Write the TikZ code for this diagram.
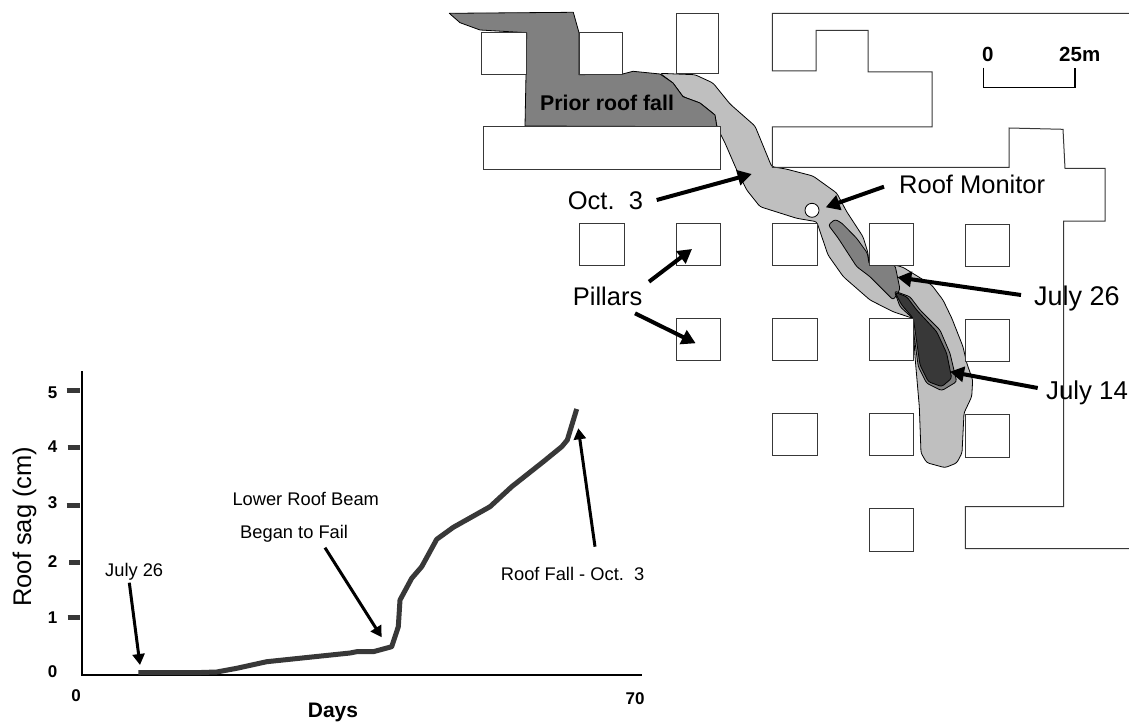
\documentclass[tikz,border=0pt]{standalone}
\usepackage{fontspec}
\setmainfont{Liberation Sans}
\usetikzlibrary{arrows.meta}
\definecolor{fallA}{HTML}{BFBFBF}
\definecolor{fallB}{HTML}{808080}
\definecolor{fallC}{HTML}{383838}
\definecolor{ink}{HTML}{383838}
\tikzset{
  zone/.style={draw=black,line width=0.8pt,line join=round},
  softzone/.style={zone,rounded corners=2.5pt},
  pillar/.style={draw=ink,fill=white,line width=1pt},
  wall/.style={draw=ink,line width=1pt,line join=miter},
  bigarrow/.style={-{Triangle[length=14pt,width=15pt]},line width=4pt,black},
  midarrow/.style={-{Triangle[length=11pt,width=12pt]},line width=3pt,black},
  big/.style={anchor=base west,inner sep=0pt,font=\fontsize{25.5}{30}\selectfont},
  bigger/.style={anchor=base west,inner sep=0pt,font=\fontsize{27}{30}\selectfont},
  edgelabel/.style={anchor=base west,inner sep=0pt,font=\fontsize{25.8}{30}\selectfont},
  small/.style={anchor=base west,inner sep=0pt,font=\fontsize{18.3}{22}\selectfont},
  ticklabel/.style={anchor=base,inner sep=0pt,font=\fontsize{17}{20}\selectfont\bfseries},
  ytick/.style={line width=5pt,draw=ink},
  axis/.style={line width=2pt,black},
}
\begin{document}
\begin{tikzpicture}[x=1pt,y=-1pt]
\useasboundingbox (0,0) rectangle (1129,722);
% Oct. 3 fall zone
\draw[softzone,fill=fallA] (660,73.3) -- (676,74) -- (695,74.7) -- (713,83) -- (730,104) -- (755,126) -- (771.7,166.7)
 -- (786,169) -- (813,176) -- (836.7,193) -- (846.7,211.7) -- (863,236.7) -- (868,253) -- (869,265) -- (895,265)
 -- (903,267.3) -- (931.7,285) -- (943,300) -- (951.7,318) -- (963,346.7) -- (966.7,363) -- (972.7,380) -- (971.7,396.7)
 -- (964,413) -- (962,453) -- (956.7,463) -- (945,467.7) -- (926.7,462.7) -- (921,453) -- (919.3,406.7) -- (915,356.7)
 -- (912.7,318.3) -- (903,315) -- (893,311.7) -- (870,300) -- (843.3,276.7) -- (828,255) -- (816.7,221.7)
 -- (796.7,218.3) -- (760,206.7) -- (746.7,190) -- (736.7,170) -- (725,143) -- (720,133) -- (716.7,126) -- (715,115)
 -- (700,103) -- (683,96.7) -- (673,83) -- cycle;
% Prior roof fall
\draw[zone,fill=fallB] (449.3,13.3) -- (573.3,12.3) -- (579,32.7) -- (579,74.7) -- (622.7,74) -- (633,71.3) -- (660,74)
 -- (673,83) -- (683,96.7) -- (700,103) -- (715,115) -- (716.7,126) -- (717.3,126.7) -- (525,126) -- (526,74.7)
 -- (526.7,32.7) -- (480,30) -- (460,22.7) -- cycle;
% July 26 zone
\draw[softzone,fill=fallB] (835,219.3) -- (828.3,225) -- (838.3,238.3) -- (856.7,266.7) -- (870,276.7) -- (893.3,300)
 -- (900,289.3) -- (895,265) -- (869.3,265) -- (867.3,253) -- (856.7,238.3) -- (841.7,223) -- cycle;
% July 14 zone
\draw[softzone,fill=fallB] (894.3,291) -- (910,296.7) -- (920,310) -- (940,330) -- (950,353.3) -- (956.7,381.7) -- (941.7,390.7)
 -- (926.7,383.3) -- (918.3,366.7) -- (913.3,330) -- (912.7,318.3) -- (900,306.7) -- cycle;
\draw[softzone,fill=fallC] (895,292.3) -- (906.7,296.7) -- (916.7,310) -- (936.7,331.7) -- (946.7,353.3) -- (951.7,378.3)
 -- (941.7,386.7) -- (928.3,381.7) -- (920,365) -- (915,330) -- (913.3,318.3) -- (901.7,305) -- cycle;
% Pillars
\foreach \a/\b/\c/\d in {481.7/32.7/526.7/74.7,579/32.7/622.7/74.7,676/13.3/718.7/73.7,483/126.7/720/170,
  579/223/624/265,676/223/720/265,772.3/223/817/265,869.3/223/913.3/265,965/224.3/1009.3/266.3,
  676/318/720/360,772.3/318.3/817/360.3,869.3/318.3/913.3/360.3,965/319.7/1009.3/361.7,
  772.3/413.3/817/455.3,869.3/413.3/913.3/455.3,965/414.7/1009.3/457.7,869.3/508/913.3/551}
  \draw[pillar] (\a,\b) rectangle (\c,\d);
% Mine walls
\draw[wall] (1129,13.3) -- (772.3,13.3) -- (772.3,71) -- (816,71) -- (816,30.5) -- (868,30.5) -- (868,72) -- (932,72)
 -- (932,127) -- (772.3,127) -- (772.3,167.3) -- (1009,167.3) -- (1009,128) -- (1063,129.3) -- (1065,168.5) -- (1105,168.5)
 -- (1105,221) -- (1063.7,221) -- (1063.7,506.7) -- (965.3,506.7) -- (965.3,548.7) -- (1129,548.7);
% Roof monitor
\node[draw=black,fill=white,circle,line width=0.8pt,minimum size=14pt,inner sep=0pt] (mon) at (812,210.3) {};
% Scale bar
\coordinate (sa) at (983.7,67.7);
\coordinate (sb) at (983.7,87.7);
\coordinate (sc) at (1075,87.7);
\coordinate (sd) at (1075,67.7);
\draw[line width=1.5pt,black] (sa) -- (sb) -- (sc) -- (sd);
\node[anchor=base west,inner sep=0pt,font=\fontsize{20.5}{24}\selectfont\bfseries] (s0) at (982,61.7) {0};
\node[anchor=base west,inner sep=0pt,font=\fontsize{20.5}{24}\selectfont\bfseries] (s25) at (1059,61.7) {25m};
% Map labels
\node[anchor=base west,inner sep=0pt,font=\fontsize{21.3}{25}\selectfont\bfseries] (prior) at (540,110.7) {Prior roof fall};
\node[big] (oct) at (567.7,210) {Oct.\ \ 3};
\node[big] (rm) at (899,193.3) {Roof Monitor};
\node[big] (pil) at (572.7,305) {Pillars};
\node[bigger] (j26) at (1034,305) {July 26};
\node[edgelabel] (j14) at (1046,399.3) {July 14};
% Map arrows
\coordinate (oa) at (656.7,200); \coordinate (ob) at (751.7,174);
\coordinate (ra) at (884,186.7); \coordinate (rb) at (825.7,207.3);
\coordinate (pa) at (649,281.7); \coordinate (pb) at (692,249);
\coordinate (qa) at (635,313.3); \coordinate (qb) at (695.7,343.3);
\coordinate (ja) at (1021,295); \coordinate (jb) at (897.3,277.3);
\coordinate (ka) at (1037.7,388); \coordinate (kb) at (950,371.7);
\draw[bigarrow] (oa) -- (ob);
\draw[bigarrow] (ra) -- (rb);
\draw[bigarrow] (pa) -- (pb);
\draw[bigarrow] (qa) -- (qb);
\draw[bigarrow] (ja) -- (jb);
\draw[bigarrow] (ka) -- (kb);
% Graph axes
\coordinate (ytop) at (82,371);
\coordinate (orig) at (82,675.3);
\coordinate (xend) at (641.7,675.3);
\draw[axis] (ytop) -- (orig) -- (xend);
\foreach \xs/\ys in {66.7/390.7,67.5/447.3,66.7/505.3,69.3/562,67.5/617.3}
  \draw[ytick] (\xs,\ys) -- (80,\ys);
\foreach \l/\ys in {5/398,4/452,3/508.7,2/567.7,1/623,0/677.7}
  \node[ticklabel] (t\l) at (52.7,\ys) {\l};
\node[ticklabel] (x0) at (76,701) {0};
\node[ticklabel] (x70) at (635,704) {70};
\node[anchor=base,inner sep=0pt,font=\fontsize{21}{25}\selectfont\bfseries] (days) at (333,717) {Days};
\node[anchor=base,inner sep=0pt,rotate=90,font=\fontsize{25.5}{30}\selectfont] (sag) at (31,526.7) {Roof sag (cm)};
% Curve
\draw[line width=5pt,draw=ink,line join=round] (138.3,672.7) -- (195,672.7) -- (216.7,672) -- (236.7,668.3) -- (266.7,661.7)
 -- (350,653) -- (356.7,651.7) -- (373.3,651.7) -- (391.7,646.7) -- (398.3,626.7) -- (400,600) -- (411.7,578.3) -- (421.7,566.7)
 -- (436.7,539.3) -- (453.3,527.3) -- (490,506.7) -- (511.7,486.7) -- (543.3,461.7) -- (561.7,446.7) -- (567.3,440) -- (576.7,409);
% Graph labels
\node[small] (g26) at (105,576) {July 26};
\node[small] (low1) at (232.3,505.7) {Lower Roof Beam};
\node[small] (low2) at (240,538.3) {Began to Fail};
\node[small] (rf) at (500.7,580.7) {Roof Fall - Oct.\ \ 3};
\coordinate (ga) at (129.3,582.7); \coordinate (gb) at (140,665);
\coordinate (la) at (325,547.7); \coordinate (lb) at (381.7,637.3);
\coordinate (fa) at (595,546.7); \coordinate (fb) at (578.3,428.3);
\draw[midarrow] (ga) -- (gb);
\draw[midarrow] (la) -- (lb);
\draw[midarrow] (fa) -- (fb);
\end{tikzpicture}
\end{document}
